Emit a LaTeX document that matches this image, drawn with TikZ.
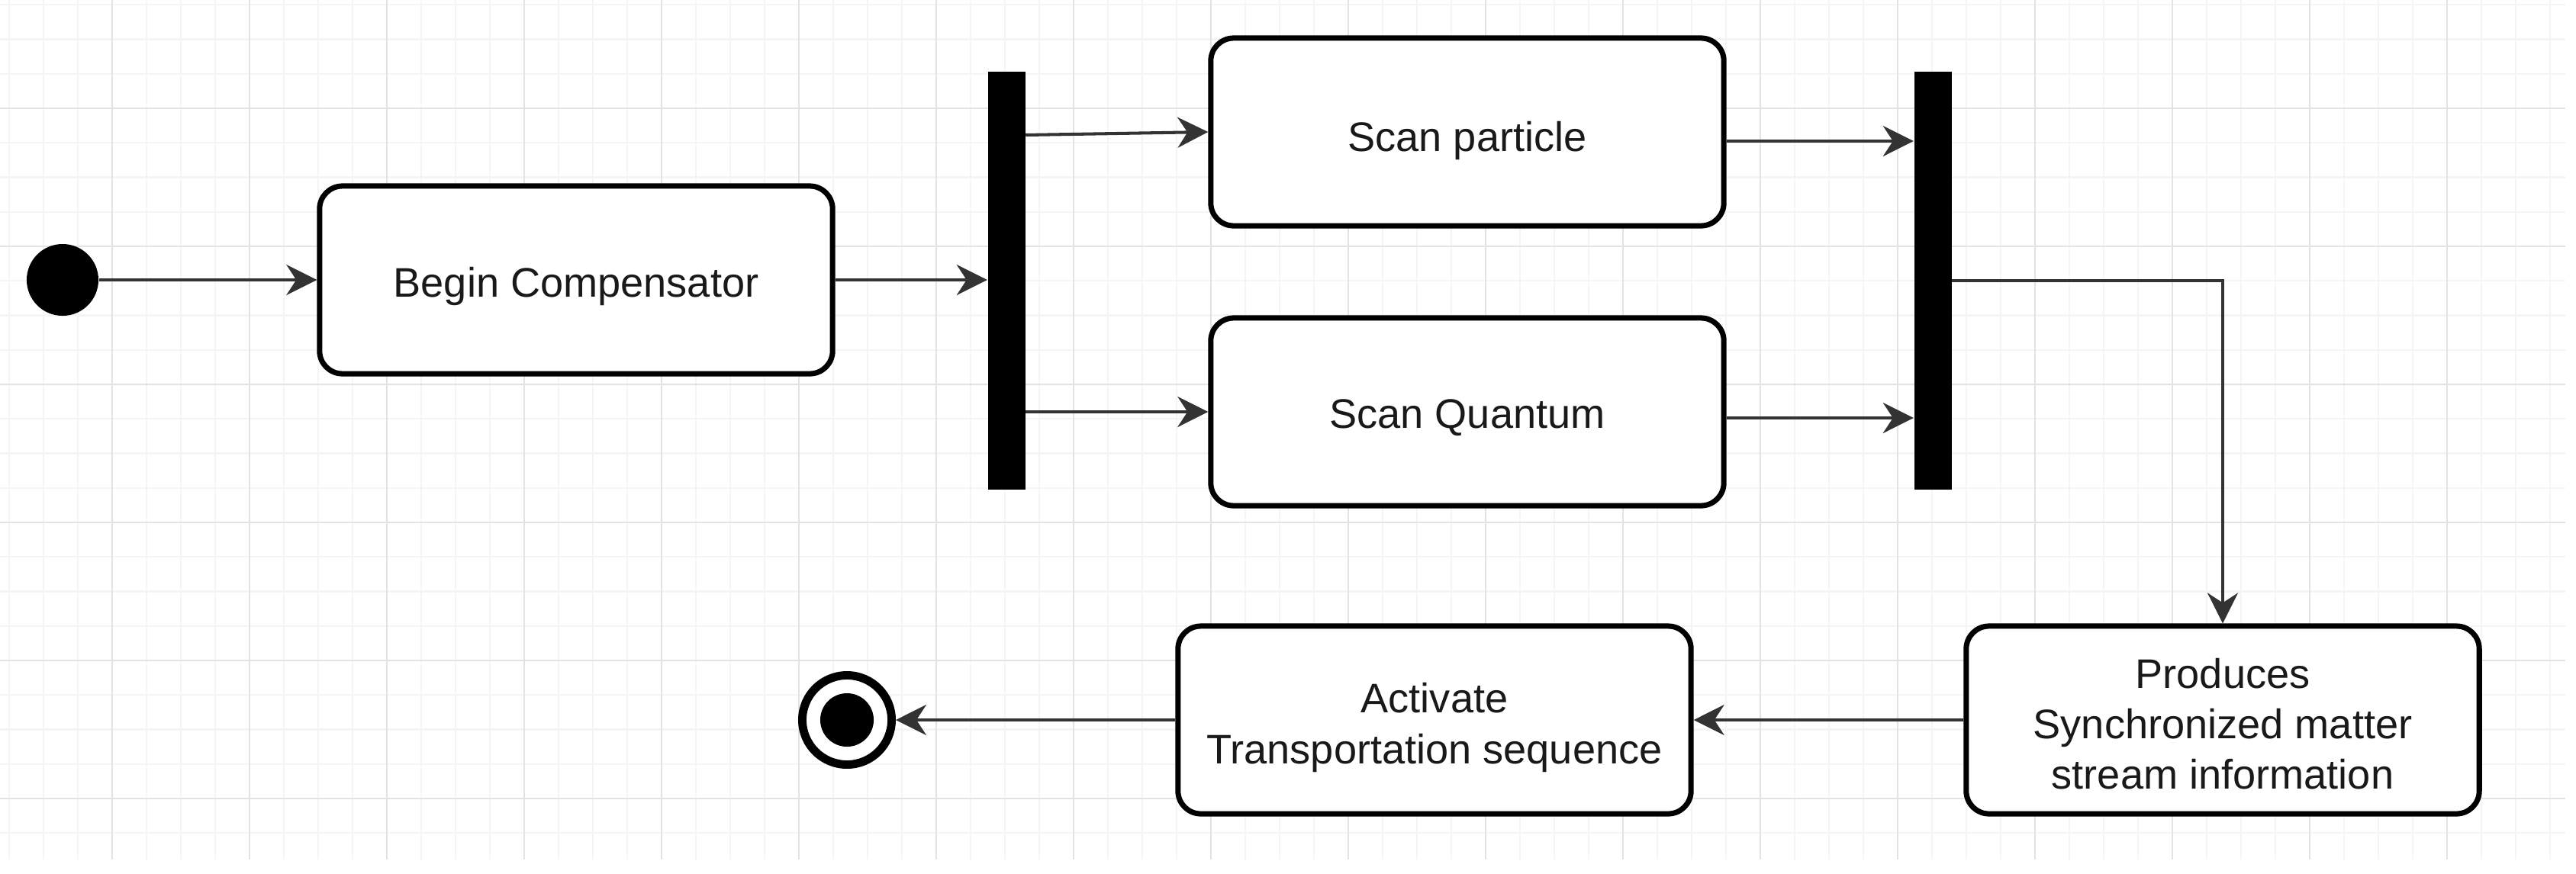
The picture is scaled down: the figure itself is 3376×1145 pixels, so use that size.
\documentclass[tikz,border=0pt]{standalone}
\usepackage{fontspec}
\setmainfont{Liberation Sans}
\usetikzlibrary{arrows.meta}
\begin{document}
\begin{tikzpicture}[x=0.01cm,y=-0.01cm,
  act/.style={draw=black, line width=2pt, rounded corners=0.3cm, fill=white,
    minimum width=6.72cm, minimum height=2.46cm, inner sep=0pt},
  txt/.style={inner sep=0pt, align=center,
    font=\fontsize{15.4}{18.8}\selectfont, text=black!90},
  bar/.style={fill=black, draw=none, minimum width=0.49cm, minimum height=5.47cm, inner sep=0pt},
  flow/.style={draw=black!80, line width=1.15pt, -{Stealth[length=4mm,width=4mm,inset=1.3mm]}},
  minorgrid/.style={draw=black!4, line width=0.6pt},
  majorgrid/.style={draw=black!11, line width=0.8pt},
]
\useasboundingbox (0,0) rectangle (3376,1145);
\fill[white] (0,0) rectangle (3376,1145);
% grid
\foreach \x in {12,57,...,3362} \draw[minorgrid] (\x,0) -- (\x,1127);
\foreach \y in {6.25,51.5,...,1127} \draw[minorgrid] (0,\y) -- (3362,\y);
\foreach \x in {147,327,...,3362} \draw[majorgrid] (\x,0) -- (\x,1127);
\foreach \y in {142,323,...,1127} \draw[majorgrid] (0,\y) -- (3362,\y);

% nodes
\node[circle, fill=black, minimum size=0.94cm, inner sep=0pt] (start) at (82,367) {};
\node[act] (begin) at (755,367) {};
\node[txt] (beginT) at ([yshift=-0.08cm]begin.center) {Begin Compensator};
\node[bar] (fork) at (1319,368) {};
\node[act] (scanP) at (1923,173) {};
\node[txt] (scanPT) at ([yshift=-0.11cm]scanP.center) {Scan particle};
\node[act] (scanQ) at (1923,540) {};
\node[txt] (scanQT) at ([yshift=-0.08cm]scanQ.center) {Scan Quantum};
\node[bar] (join) at (2533,368) {};
\node[act] (prod) at (2913,944) {};
\node[txt] (prodT) at ([yshift=-0.05cm]prod.center) {Produces\\Synchronized matter\\stream information};
\node[act] (activ) at (1880,944) {};
\node[txt] (activT) at ([yshift=-0.1cm]activ.center) {Activate\\Transportation sequence};
\node[circle, draw=black, fill=white, line width=3.1pt, minimum size=1.17cm, inner sep=0pt] (end) at (1110,944) {};
\node[circle, fill=black, minimum size=0.70cm, inner sep=0pt] (endcore) at (end.center) {};

% connectors
\draw[flow] (start) -- (begin);
\draw[flow] (begin.east) -- (begin.east -| fork.west);
\draw[flow] (fork.east |- scanP.west) ++(0,4) -- (scanP.west);
\draw[flow] (fork.east |- scanQ.west) -- (scanQ.west);
\draw[flow] (scanP.east) ++(0,12) coordinate (pa) -- (pa -| join.west);
\draw[flow] (scanQ.east) ++(0,8) coordinate (qa) -- (qa -| join.west);
\draw[flow] (join.east) -| (prod.north);
\draw[flow] (prod.west) -- (activ.east);
\draw[flow] (activ.west) -- (end);
\end{tikzpicture}
\end{document}
